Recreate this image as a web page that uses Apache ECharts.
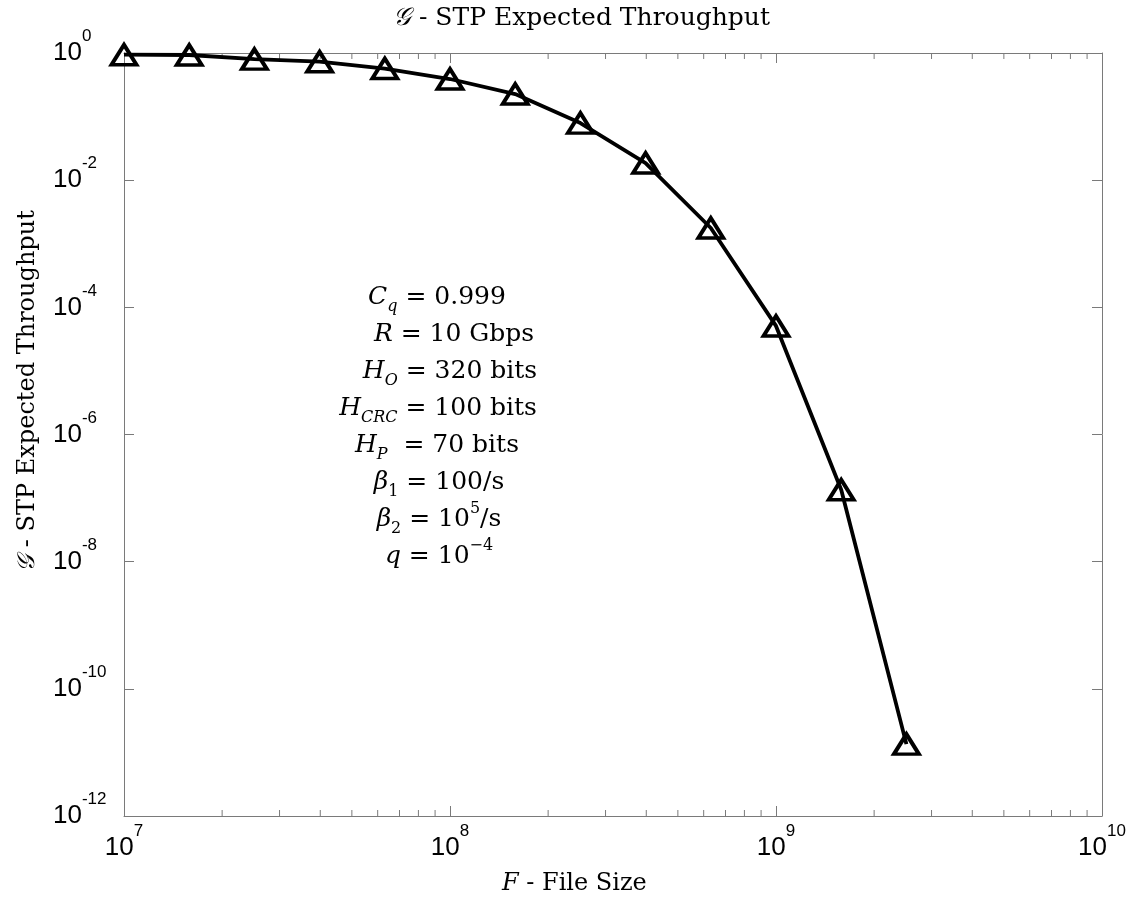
<!DOCTYPE html>
<html>
<head>
<meta charset="utf-8">
<script src="https://cdn.jsdelivr.net/npm/echarts@6/dist/echarts.min.js"></script>
<style>
html,body{margin:0;padding:0;background:#fff;}
#chart{width:1134px;height:901px;}
</style>
</head>
<body>
<div id="chart"></div>
<script>
// ---- data ----
var fileSizes = [1e7, 1.585e7, 2.512e7, 3.981e7, 6.310e7, 1e8, 1.585e8, 2.512e8, 3.981e8, 6.310e8, 1e9, 1.585e9, 2.512e9];
var throughput = [0.94, 0.93, 0.80, 0.73, 0.57, 0.39, 0.226, 0.079, 0.0186, 0.00177, 5.1e-5, 1.35e-7, 1.35e-11];
var xMinorTicks = [2e7, 3e7, 4e7, 5e7, 6e7, 7e7, 8e7, 9e7,
                   2e8, 3e8, 4e8, 5e8, 6e8, 7e8, 8e8, 9e8,
                   2e9, 3e9, 4e9, 5e9, 6e9, 7e9, 8e9, 9e9];
var titleText = 'STP Expected Throughput';
var xName = 'File Size';
var paramLines = [
  [['m','C'],['sub','q'],['t',' = 0.999']],
  [['m','R'],['t',' = 10 Gbps']],
  [['m','H'],['sub','O'],['t',' = 320 bits']],
  [['m','H'],['sub','CRC'],['t',' = 100 bits']],
  [['m','H'],['sub','P'],['t','  = 70 bits']],
  [['m','β'],['subn','1'],['t',' = 100/s']],
  [['m','β'],['subn','2'],['t',' = 10'],['sup','5'],['t','/s']],
  [['m','q'],['t',' = 10'],['sup','−4']]
];

var SERIF = '"DejaVu Serif", "Liberation Serif", serif';
var SANS = '"Liberation Sans", Arial, sans-serif';
var AXC = '#7a7a7a';

function expLabel(v){
  var e = Math.round(Math.log10(v));
  return '{b|10}{s|' + e + '}';
}
var tickRich = {
  b: {fontFamily: SANS, fontSize: 26, lineHeight: 50, color: '#000', verticalAlign: 'middle'},
  s: {fontFamily: SANS, fontSize: 17, lineHeight: 18, color: '#000', verticalAlign: 'top'}
};

var chart = echarts.init(document.getElementById('chart'), null, {renderer: 'canvas'});

var FS = 25;
var mathRich = {
  m: {fontFamily: SERIF, fontStyle: 'italic', fontSize: FS, lineHeight: 36, color: '#000', verticalAlign: 'middle'},
  t: {fontFamily: SERIF, fontSize: FS, lineHeight: 36, color: '#000', verticalAlign: 'middle'},
  sub: {fontFamily: SERIF, fontStyle: 'italic', fontSize: 16, lineHeight: 17, color: '#000', verticalAlign: 'bottom'},
  subn: {fontFamily: SERIF, fontSize: 16, lineHeight: 17, color: '#000', verticalAlign: 'bottom'},
  sup: {fontFamily: SERIF, fontSize: 16, lineHeight: 17, color: '#000', verticalAlign: 'top'}
};
var paramCenters = [437, 454, 450, 438, 437, 439, 439, 439];
var paramY = [297, 334, 371, 408, 445, 482, 519, 556];
var graphics = paramLines.map(function(line, i){
  return {
    type: 'text', x: paramCenters[i], y: paramY[i],
    style: {
      text: line.map(function(p){ return '{' + p[0] + '|' + p[1] + '}'; }).join(''),
      rich: mathRich, align: 'center', verticalAlign: 'middle'
    }
  };
});
// title
graphics.push({
  type: 'text', x: 393, y: 18,
  style: {
    text: '{g|𝒢} - ' + titleText, align: 'left', verticalAlign: 'middle',
    fontFamily: SERIF, fontSize: 25, fill: '#000',
    rich: {g: {fontFamily: SERIF, fontStyle: 'italic', fontSize: 25, color: '#000'}}
  }
});
// x axis title
graphics.push({
  type: 'text', x: 502, y: 884,
  style: {
    text: '{i|F} - ' + xName, align: 'left', verticalAlign: 'middle',
    fontFamily: SERIF, fontSize: 24, fill: '#000',
    rich: {i: {fontFamily: SERIF, fontStyle: 'italic', fontSize: 24, color: '#000'}}
  }
});
// y axis title
graphics.push({
  type: 'text', x: 28, y: 391, rotation: Math.PI / 2,
  style: {
    text: '{g|𝒢} - ' + titleText, align: 'center', verticalAlign: 'middle',
    fontFamily: SERIF, fontSize: 24, fill: '#000',
    rich: {g: {fontFamily: SERIF, fontStyle: 'italic', fontSize: 24, color: '#000'}}
  }
});

var option = {
  backgroundColor: '#fff',
  animation: false,
  grid: {left: 124, right: 32, top: 53, bottom: 85, containLabel: false},
  xAxis: [{
    type: 'log', min: 1e7, max: 1e10, logBase: 10, interval: 1,
    position: 'bottom',
    axisLine: {show: true, lineStyle: {color: AXC, width: 1}},
    axisTick: {show: true, inside: true, length: 10, lineStyle: {color: AXC}},
    splitLine: {show: false},
    axisLabel: {margin: 7, formatter: expLabel, rich: tickRich}
  }, {
    type: 'log', min: 1e7, max: 1e10, logBase: 10, interval: 1,
    position: 'top',
    axisLine: {show: true, lineStyle: {color: AXC, width: 1}},
    axisTick: {show: true, inside: true, length: 10, lineStyle: {color: AXC}},
    splitLine: {show: false},
    axisLabel: {show: false}
  }],
  yAxis: [{
    type: 'log', min: 1e-12, max: 1, logBase: 10, interval: 2,
    position: 'left',
    axisLine: {show: true, lineStyle: {color: AXC, width: 1}},
    axisTick: {show: true, inside: true, length: 10, lineStyle: {color: AXC}},
    splitLine: {show: false},
    axisLabel: {margin: 71, align: 'left', formatter: expLabel, rich: tickRich}
  }, {
    type: 'log', min: 1e-12, max: 1, logBase: 10, interval: 2,
    position: 'right',
    axisLine: {show: true, lineStyle: {color: AXC, width: 1}},
    axisTick: {show: true, inside: true, length: 10, lineStyle: {color: AXC}},
    splitLine: {show: false},
    axisLabel: {show: false}
  }],
  graphic: graphics,
  series: [{
    type: 'custom',
    xAxisIndex: 0, yAxisIndex: 0,
    silent: true, clip: false,
    data: xMinorTicks.map(function(v){ return [v, 1e-12]; }),
    renderItem: function(params, api){
      var b = api.coord([api.value(0), 1e-12]);
      var t = api.coord([api.value(0), 1]);
      return {type: 'group', children: [
        {type: 'line', shape: {x1: b[0], y1: b[1], x2: b[0], y2: b[1] - 6}, style: {stroke: AXC, lineWidth: 1}},
        {type: 'line', shape: {x1: t[0], y1: t[1], x2: t[0], y2: t[1] + 6}, style: {stroke: AXC, lineWidth: 1}}
      ]};
    }
  }, {
    type: 'line',
    xAxisIndex: 0, yAxisIndex: 0,
    data: fileSizes.map(function(x, i){ return [x, throughput[i]]; }),
    symbol: 'triangle', symbolSize: [25, 20], showAllSymbol: true,
    clip: false,
    lineStyle: {color: '#000', width: 3.8},
    itemStyle: {color: 'rgba(255,255,255,0)', borderColor: '#000', borderWidth: 3.8},
    z: 5
  }]
};
chart.setOption(option);
</script>
</body>
</html>
